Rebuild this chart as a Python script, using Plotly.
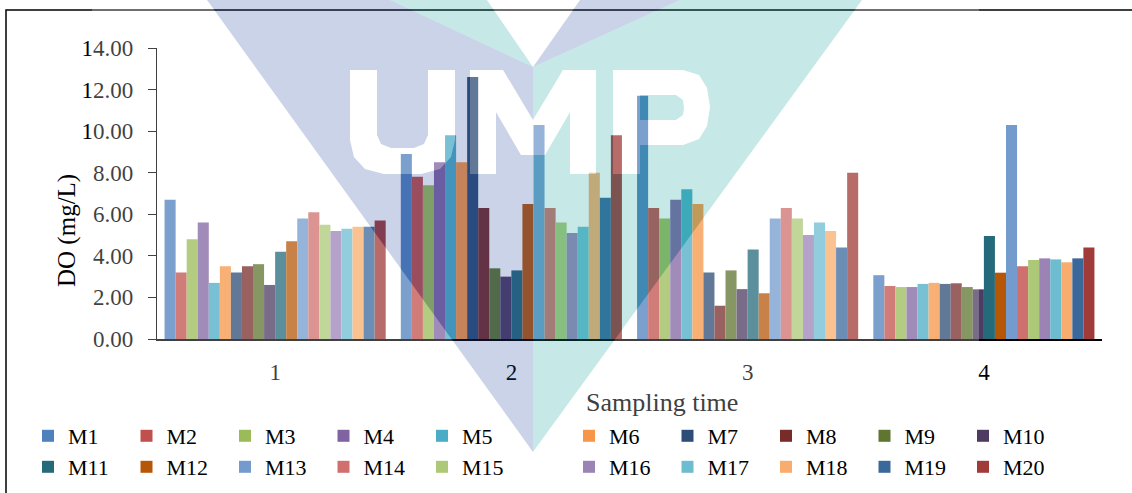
import plotly.graph_objects as go

# ---------------- data ----------------
categories = ["1", "2", "3", "4"]
series_names = [f"M{i}" for i in range(1, 21)]
# DO (mg/L) per sampling time, for M1..M20
t1 = [6.7, 3.2, 4.8, 5.6, 2.7, 3.5, 3.2, 3.5, 3.6, 2.6, 4.2, 4.7, 5.8, 6.1, 5.5, 5.2, 5.3, 5.4, 5.4, 5.7]
t2 = [8.9, 7.8, 7.4, 8.5, 9.8, 8.5, 12.6, 6.3, 3.4, 3.0, 3.3, 6.5, 10.3, 6.3, 5.6, 5.1, 5.4, 8.0, 6.8, 9.8]
t3 = [11.7, 6.3, 5.8, 6.7, 7.2, 6.5, 3.2, 1.6, 3.3, 2.4, 4.3, 2.2, 5.8, 6.3, 5.8, 5.0, 5.6, 5.2, 4.4, 8.0]
t4 = [3.07, 2.55, 2.5, 2.5, 2.65, 2.7, 2.65, 2.68, 2.5, 2.39, 4.95, 3.19, 10.3, 3.5, 3.8, 3.88, 3.83, 3.69, 3.88, 4.4]
y_ticks = [0, 2, 4, 6, 8, 10, 12, 14]

colors = ["#4F81BD", "#C0504D", "#9BBB59", "#8064A2", "#4BACC6", "#F79646",
          "#2C4D75", "#772C2A", "#5F7530", "#4D3B62", "#256A7A", "#B65708",
          "#739BCD", "#D0706E", "#ADC877", "#9B83B6", "#6DBCD0", "#F8AC6D",
          "#3B689B", "#A03B39"]

FONT = "Liberation Serif, Times New Roman, serif"
W, H = 1132, 493
L, T, PW, PH = 157, 48, 945, 291

# legend blocks: rows of 10 entries split in two groups of 5
legend_ids = ["legend", "legend2", "legend3", "legend4"]

fig = go.Figure()
for i, name in enumerate(series_names):
    vals = [t1[i], t2[i], t3[i], t4[i]]
    block = (i // 10) * 2 + (i % 10) // 5
    fig.add_trace(go.Bar(
        x=categories, y=vals, name=name,
        marker=dict(color=colors[i], line=dict(width=0)),
        legend=legend_ids[block],
    ))


def legend_cfg(left_px, top_px):
    return dict(orientation="h", xref="paper", yref="paper",
                x=(left_px - L) / PW, y=(T + PH - top_px) / PH,
                xanchor="left", yanchor="top",
                entrywidth=53.5, entrywidthmode="pixels",
                font=dict(family=FONT, size=22, color="black"),
                bgcolor="rgba(0,0,0,0)", tracegroupgap=0, itemwidth=30)


fig.update_layout(
    width=W, height=H,
    margin=dict(l=L, r=W - L - PW, t=T, b=H - T - PH, pad=0, autoexpand=False),
    paper_bgcolor="white", plot_bgcolor="rgba(0,0,0,0)",
    barmode="group", bargap=0.064, bargroupgap=0,
    font=dict(family=FONT, color="black", size=22),
    showlegend=True,
    legend=legend_cfg(28, 415),
    legend2=legend_cfg(569, 415),
    legend3=legend_cfg(28, 446),
    legend4=legend_cfg(569, 446),
)

fig.update_yaxes(range=[0, 14], tickvals=y_ticks, tickformat=".2f",
                 showline=True, linecolor="black", linewidth=1.3,
                 ticks="outside", ticklen=8, tickcolor="black", tickwidth=1.3,
                 showgrid=False, zeroline=False, ticklabelstandoff=10,
                 tickfont=dict(family=FONT, size=23, color="black"))
fig.update_xaxes(type="category", showline=True, linecolor="black", linewidth=1.5,
                 ticks="", showgrid=False, ticklabelstandoff=12,
                 tickfont=dict(family=FONT, size=23, color="black"))

fig.add_annotation(text="DO (mg/L)", xref="paper", yref="paper",
                   x=(67 - L) / PW, y=(T + PH - 231) / PH, textangle=-90,
                   showarrow=False, xanchor="center", yanchor="middle",
                   font=dict(family=FONT, size=25, color="black"))
fig.add_annotation(text="Sampling time", xref="paper", yref="paper",
                   x=(662 - L) / PW, y=(T + PH - 402) / PH,
                   showarrow=False, xanchor="center", yanchor="middle",
                   font=dict(family=FONT, size=26, color="#404040"))


# ---------------- decoration: frame + semi-transparent watermark ----------------
def P(x, y):
    return f"{(x - L) / PW:.5f},{(T + PH - y) / PH:.5f}"


def poly(pts):
    return "M" + "L".join(P(x, y) for x, y in pts) + "Z"


fig.add_shape(type="path", xref="paper", yref="paper", layer="above",
              path="M" + P(1140, 10) + "L" + P(6, 10) + "L" + P(6, 500),
              line=dict(color="black", width=1.5))

U = [(350, 70), (350, 140), (354, 157), (365, 169), (384, 174), (421, 174), (440, 169),
     (451, 157), (455, 140), (455, 70), (428, 70), (428, 135), (424, 144), (414, 148),
     (391, 148), (381, 144), (377, 135), (377, 70)]
M_left = [(470, 174), (470, 70), (503, 70), (533, 120), (533, 155), (521, 155),
          (496, 112), (496, 174)]
M_right = [(533, 120), (563, 70), (596, 70), (596, 174), (570, 174), (570, 112),
           (545, 155), (533, 155)]
P_outer = [(613, 174), (613, 70), (683, 70), (699, 75), (707, 88), (710, 107),
           (707, 126), (699, 139), (683, 145), (640, 145), (640, 174)]
P_inner = [(640, 95), (676, 95), (683, 100), (684, 108), (683, 115), (676, 120), (640, 120)]

lav_A = [(207, 0), (390, 0), (533, 67), (533, 452)]
lav_strip = [(580, 0), (680, 0), (533, 67)]
teal_B = [(680, 0), (862, 0), (533, 452), (533, 67)]
teal_strip = [(390, 0), (487, 0), (533, 67)]
outer_tri = [(207, 0), (862, 0), (533, 452)]
white_v = [(487, 0), (580, 0), (533, 67)]
box = [(92, 0), (979, 0), (979, 455), (92, 455)]

fig.add_shape(type="path", xref="paper", yref="paper", layer="above", fillrule="evenodd",
              path=poly(lav_A) + poly(lav_strip) + poly(U) + poly(M_left),
              fillcolor="rgba(38,72,159,0.24)", line=dict(width=0))
fig.add_shape(type="path", xref="paper", yref="paper", layer="above", fillrule="evenodd",
              path=poly(teal_B) + poly(teal_strip) + poly(M_right) + poly(P_outer) + poly(P_inner),
              fillcolor="rgba(18,163,159,0.24)", line=dict(width=0))
fig.add_shape(type="path", xref="paper", yref="paper", layer="above", fillrule="evenodd",
              path=poly(box) + poly(outer_tri) + poly(white_v) + poly(U) + poly(M_left)
              + poly(M_right) + poly(P_outer) + poly(P_inner),
              fillcolor="rgba(255,255,255,0.25)", line=dict(width=0))

fig.write_html("out.html")
